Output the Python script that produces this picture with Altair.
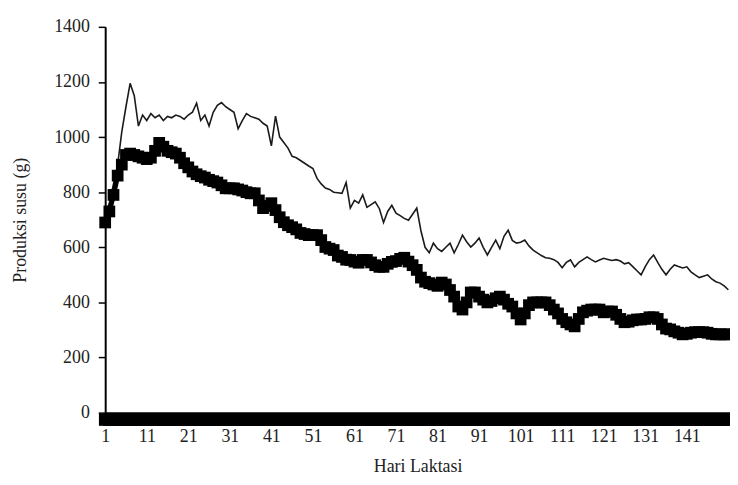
import altair as alt
import pandas as pd

# Days of lactation
days = list(range(1, 152))

# Upper series (thin line), grams
upper = [720, 760, 830, 900, 1020, 1110, 1195, 1150, 1040, 1080,
         1060, 1085, 1070, 1080, 1060, 1075, 1070, 1080, 1075, 1065,
         1080, 1090, 1123, 1060, 1080, 1040, 1090, 1115, 1125, 1110,
         1100, 1090, 1030, 1060, 1085, 1075, 1070, 1065, 1050, 1040,
         968, 1076, 1000, 980, 960, 930, 925, 915, 905, 895,
         886, 850, 830, 815, 810, 800, 798, 796, 835, 742,
         770, 760, 790, 745, 755, 765, 740, 690, 730, 752,
         724, 715, 705, 698, 720, 742, 660, 600, 580, 615,
         595, 585, 600, 615, 580, 610, 644, 620, 601, 615,
         634, 600, 572, 600, 626, 595, 640, 662, 625, 615,
         618, 626, 605, 590, 580, 570, 562, 560, 555, 545,
         526, 545, 554, 529, 545, 555, 565, 555, 547, 554,
         560, 556, 552, 555, 550, 540, 544, 530, 515, 500,
         530, 555, 572, 545, 520, 500, 520, 536, 530, 525,
         529, 511, 500, 490, 495, 500, 485, 475, 470, 460,
         446]

# Lower series (thick square markers), grams
lower = [690, 730, 790, 860, 900, 935, 940, 935, 930, 925,
         920, 925, 950, 979, 965, 950, 945, 940, 925, 905,
         890, 875, 865, 858, 853, 845, 840, 835, 825, 814,
         814, 814, 810, 806, 800, 796, 796, 770, 742, 750,
         760, 735, 709, 691, 680, 673, 665, 652, 648, 644,
         644, 644, 626, 601, 595, 590, 570, 565, 555, 554,
         548, 544, 554, 554, 545, 535, 529, 529, 540, 547,
         550, 558, 562, 548, 535, 518, 490, 475, 470, 465,
         460, 472, 465, 445, 421, 385, 374, 400, 436, 436,
         421, 410, 400, 405, 415, 421, 410, 395, 385, 360,
         338, 360, 390, 400, 400, 400, 400, 390, 374, 360,
         340, 328, 320, 313, 340, 364, 370, 374, 374, 374,
         364, 367, 367, 355, 340, 328, 330, 335, 338, 338,
         340, 346, 346, 340, 320, 305, 302, 295, 290, 284,
         286, 290, 292, 292, 292, 290, 286, 284, 284, 284,
         284]

# Third series lying on zero
zero = [0] * len(days)

x_ticks = [1, 11, 21, 31, 41, 51, 61, 71, 81, 91, 101, 111, 121, 131, 141]
y_ticks = [0, 200, 400, 600, 800, 1000, 1200, 1400]

df = pd.DataFrame({"day": days, "upper": upper, "lower": lower, "zero": zero})

FONT = "Liberation Serif"

x_enc = alt.X("day:Q",
              scale=alt.Scale(domain=[1, 151.4], nice=False, zero=False),
              axis=alt.Axis(values=x_ticks, title="Hari Laktasi", ticks=False,
                            domain=True, domainColor="#000", domainWidth=2,
                            labelPadding=15, titlePadding=12, labelFlush=False,
                            format="d"))
y_axis = alt.Axis(values=y_ticks, title="Produksi susu (g)", tickSize=7,
                  tickColor="#000", tickWidth=1.5, domainColor="#000",
                  domainWidth=2, labelPadding=9, titlePadding=24, format="d")

base = alt.Chart(df)

upper_line = base.mark_line(color="#1a1a1a", strokeWidth=1.6).encode(
    x=x_enc,
    y=alt.Y("upper:Q", scale=alt.Scale(domain=[0, 1400]), axis=y_axis),
)
lower_line = base.mark_line(color="#000", strokeWidth=5).encode(
    x="day:Q", y="lower:Q")
lower_pts = base.mark_point(shape="square", filled=True, size=140,
                            color="#000", opacity=1).encode(
    x="day:Q", y="lower:Q")
zero_pts = base.mark_point(shape="square", filled=True, size=160,
                           color="#000", opacity=1, yOffset=7).encode(
    x="day:Q", y="zero:Q")

chart = alt.layer(upper_line, lower_line, lower_pts, zero_pts).properties(
    width=630, height=389,
    background="white",
    padding={"left": 98, "top": 17, "right": 0, "bottom": 72},
    autosize=alt.AutoSizeParams(type="none"),
).configure_view(stroke=None).configure_axis(
    grid=False, labelFont=FONT, titleFont=FONT, labelFontSize=18,
    titleFontSize=18, labelColor="#222", titleColor="#222",
    titleFontWeight="normal",
)

chart.save("out.html", embed_options={"renderer": "svg", "actions": False})
